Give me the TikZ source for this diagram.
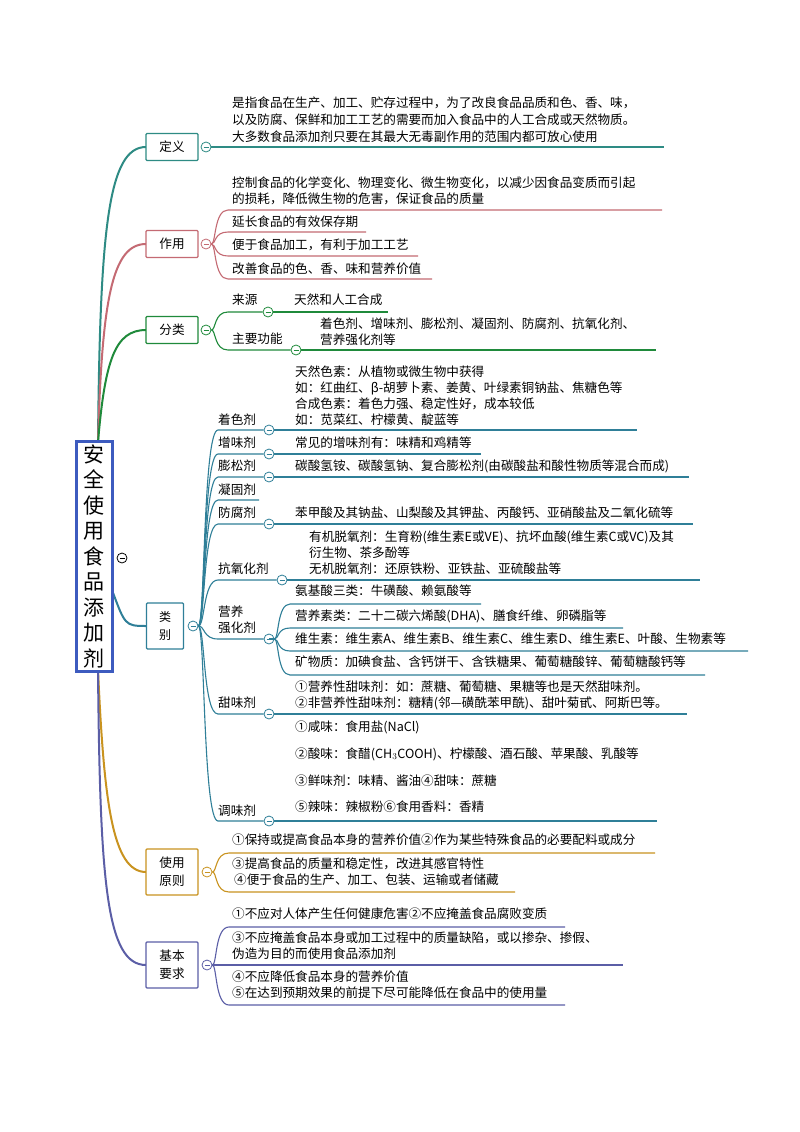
\documentclass[tikz,border=0pt]{standalone}
\usepackage{fontspec}
\setmainfont{Noto Sans CJK SC}
\begin{document}
\begin{tikzpicture}[x=1pt,y=-1pt,
  t/.style={anchor=west,inner sep=0pt,font=\fontsize{12.6}{15}\selectfont},
  lab/.style={anchor=west,inner sep=0pt,font=\fontsize{12.6}{16}\selectfont,align=left},
  box/.style={draw,line width=1.1pt,fill=white,inner sep=0pt,rounded corners=1pt,font=\fontsize{12.6}{15}\selectfont,text=black,align=center},
  coll/.style={circle,draw,fill=white,line width=0.8pt,inner sep=0pt,minimum size=10pt,
     path picture={\draw[line width=0.8pt] ([xshift=2.5pt]path picture bounding box.west) -- ([xshift=-2.5pt]path picture bounding box.east);}},
  br/.style={line width=1.1pt},
  mb/.style={line width=2pt}]
\definecolor{cA}{HTML}{2E8B84}
\definecolor{cB}{HTML}{C46A73}
\definecolor{cC}{HTML}{1F8A3B}
\definecolor{cD}{HTML}{2F7F98}
\definecolor{cE}{HTML}{C9931F}
\definecolor{cF}{HTML}{5B5EA6}
\definecolor{cR}{HTML}{3D5BBF}
\useasboundingbox[fill=white] (0,0) rectangle (800,1132);

% root
\coordinate (rt) at (98,442);
\coordinate (rb) at (98,670);
\coordinate (rm) at (112,590);
% main branches
\draw[cA,mb] (rt) .. controls (100,230) and (108,147) .. (146,147);
\draw[cB,mb] (rt) .. controls (102,300) and (112,244) .. (146,244);
\draw[cC,mb] (rt) .. controls (105,360) and (115,330) .. (146,330);
\draw[cD,mb] (rm) .. controls (125,625) and (125,626) .. (146,626);
\draw[cE,mb] (rb) .. controls (104,800) and (112,872) .. (146,872);
\draw[cF,mb] (rb) .. controls (100,880) and (106,965) .. (146,965);

\node[draw=cR,line width=3pt,fill=white,minimum width=36pt,minimum height=230pt,inner sep=0pt,align=center,font=\fontsize{21}{25.5}\selectfont] (root) at (94,556) {安\\全\\使\\用\\食\\品\\添\\加\\剂};
\node[coll,draw=black] (rc) at (122,558) {};

% ===== 定义
\node[box,draw=cA,minimum width=52pt,minimum height=27pt] (dy) at (172,147) {定义};
\node[coll,draw=cA] (dyc) at (206,147) {};
\coordinate (dye) at (664,147);
\draw[cA,br] (dyc) -- (dye);
\node[t] (dyt1) at (232,103) {是指食品在生产、加工、贮存过程中，为了改良食品品质和色、香、味，};
\node[t] (dyt2) at (232,120) {以及防腐、保鲜和加工工艺的需要而加入食品中的人工合成或天然物质。};
\node[t] (dyt3) at (232,137) {大多数食品添加剂只要在其最大无毒副作用的范围内都可放心使用};

% ===== 作用
\node[box,draw=cB,minimum width=52pt,minimum height=27pt] (zy) at (172,244) {作用};
\node[coll,draw=cB] (zyc) at (206,244) {};
\foreach \yy/\xe in {210/662,232/366,256/418,279/432}{
  \draw[cB,br] (zyc.east) .. controls (216,244) and (214,\yy) .. (228,\yy) -- (\xe,\yy);}
\node[t] (zyt1) at (232,183) {控制食品的化学变化、物理变化、微生物变化，以减少因食品变质而引起};
\node[t] (zyt2) at (232,199) {的损耗，降低微生物的危害，保证食品的质量};
\node[t] (zyt3) at (232,222) {延长食品的有效保存期};
\node[t] (zyt4) at (232,245) {便于食品加工，有利于加工工艺};
\node[t] (zyt5) at (232,269) {改善食品的色、香、味和营养价值};

% ===== 分类
\node[box,draw=cC,minimum width=52pt,minimum height=27pt] (fl) at (172,330) {分类};
\node[coll,draw=cC] (flc) at (206,330) {};
\node[coll,draw=cC] (ly) at (268,312) {};
\node[coll,draw=cC] (gn) at (296,350) {};
\draw[cC,br] (flc.east) .. controls (216,330) and (214,312) .. (228,312) -- (ly.west);
\draw[cC,br] (ly.east) -- (388,312);
\draw[cC,br] (flc.east) .. controls (216,330) and (214,350) .. (228,350) -- (gn.west);
\draw[cC,br] (gn.east) -- (656,350);
\node[t] (lyt) at (232,300) {来源};
\node[t] (lyv) at (294,300) {天然和人工合成};
\node[t] (gnt) at (232,339) {主要功能};
\node[t] (gnv1) at (320,324) {着色剂、增味剂、膨松剂、凝固剂、防腐剂、抗氧化剂、};
\node[t] (gnv2) at (320,340) {营养强化剂等};

% ===== 类别
\node[box,draw=cD,minimum width=37pt,minimum height=46pt,font=\fontsize{12}{18}\selectfont] (lb) at (165,626) {类\\别};
\node[coll,draw=cD] (lbc) at (193,626) {};
% children
\foreach \nm/\yy/\cx/\xe in {a/430/269/637,b/454/269/481,c/477/269/689,e/524/269/693,f/580/282/700,g/639/269/269,h/714/269/687,i/821/269/657}{
  \node[coll,draw=cD] (k\nm) at (\cx,\yy) {};
  \draw[cD,br] (lbc.east) .. controls (205,626) and (203,\yy) .. (218,\yy) -- (k\nm.west);
  \draw[cD,br] (k\nm.east) -- (\xe,\yy);}
\coordinate (kd) at (259,500);
\draw[cD,br] (lbc.east) .. controls (205,626) and (203,500) .. (218,500) -- (kd);
\node[t] (ka1) at (218,420) {着色剂};
\node[t] (kb1) at (218,443) {增味剂};
\node[t] (kc1) at (218,466) {膨松剂};
\node[t] (kd1) at (218,490) {凝固剂};
\node[t] (ke1) at (218,513) {防腐剂};
\node[t] (kf1) at (218,569) {抗氧化剂};
\node[lab] (kg1) at (218,620) {营养\\强化剂};
\node[t] (kh1) at (218,703) {甜味剂};
\node[t] (ki1) at (218,811) {调味剂};
% leaves
\node[t] (a1) at (295,372) {天然色素：从植物或微生物中获得};
\node[t] (a2) at (295,388) {如：红曲红、β-胡萝卜素、姜黄、叶绿素铜钠盐、焦糖色等};
\node[t] (a3) at (295,404) {合成色素：着色力强、稳定性好，成本较低};
\node[t] (a4) at (295,420) {如：苋菜红、柠檬黄、靛蓝等};
\node[t] (b1) at (295,443) {常见的增味剂有：味精和鸡精等};
\node[t] (c1) at (295,466) {碳酸氢铵、碳酸氢钠、复合膨松剂(由碳酸盐和酸性物质等混合而成)};
\node[t] (e1) at (295,513) {苯甲酸及其钠盐、山梨酸及其钾盐、丙酸钙、亚硝酸盐及二氧化硫等};
\node[t] (f1) at (309,537) {有机脱氧剂：生育粉(维生素E或VE)、抗坏血酸(维生素C或VC)及其};
\node[t] (f2) at (309,553) {衍生物、茶多酚等};
\node[t] (f3) at (309,569) {无机脱氧剂：还原铁粉、亚铁盐、亚硫酸盐等};
\foreach \yy/\xe in {604/481,628/623,651/748,675/705}{
  \draw[cD,br] (kg.east) .. controls (279,639) and (277,\yy) .. (290,\yy) -- (\xe,\yy);}
\node[t] (g1) at (295,591) {氨基酸三类：牛磺酸、赖氨酸等};
\node[t] (g2) at (295,616) {营养素类：二十二碳六烯酸(DHA)、膳食纤维、卵磷脂等};
\node[t] (g3) at (295,639) {维生素：维生素A、维生素B、维生素C、维生素D、维生素E、叶酸、生物素等};
\node[t] (g4) at (295,662) {矿物质：加碘食盐、含钙饼干、含铁糖果、葡萄糖酸锌、葡萄糖酸钙等};
\node[t] (h1) at (295,687) {①营养性甜味剂：如：蔗糖、葡萄糖、果糖等也是天然甜味剂。};
\node[t] (h2) at (295,703) {②非营养性甜味剂：糖精(邻—磺酰苯甲酰)、甜叶菊甙、阿斯巴等。};
\node[t] (i1) at (295,727) {①咸味：食用盐(NaCl)};
\node[t] (i2) at (295,754) {②酸味：食醋(CH$_3$COOH)、柠檬酸、酒石酸、苹果酸、乳酸等};
\node[t] (i3) at (295,781) {③鲜味剂：味精、酱油④甜味：蔗糖};
\node[t] (i4) at (295,807) {⑤辣味：辣椒粉⑥食用香料：香精};

% ===== 使用原则
\node[box,draw=cE,minimum width=52pt,minimum height=46pt,font=\fontsize{12.6}{18}\selectfont] (sy) at (172,872) {使用\\原则};
\node[coll,draw=cE] (syc) at (207,872) {};
\foreach \yy/\xe in {853/655,892/515}{
  \draw[cE,br] (syc.east) .. controls (217,872) and (215,\yy) .. (229,\yy) -- (\xe,\yy);}
\node[t] (s1) at (232,840) {①保持或提高食品本身的营养价值②作为某些特殊食品的必要配料或成分};
\node[t] (s2) at (232,864) {③提高食品的质量和稳定性，改进其感官特性};
\node[t] (s3) at (234,880) {④便于食品的生产、加工、包装、运输或者储藏};

% ===== 基本要求
\node[box,draw=cF,minimum width=52pt,minimum height=46pt,font=\fontsize{12.6}{18}\selectfont] (jb) at (172,965) {基本\\要求};
\node[coll,draw=cF] (jbc) at (207,965) {};
\foreach \yy/\xe in {927/565,965/623,1005/565}{
  \draw[cF,br] (jbc.east) .. controls (217,965) and (215,\yy) .. (229,\yy) -- (\xe,\yy);}
\node[t] (j1) at (232,914) {①不应对人体产生任何健康危害②不应掩盖食品腐败变质};
\node[t] (j2) at (232,938) {③不应掩盖食品本身或加工过程中的质量缺陷，或以掺杂、掺假、};
\node[t] (j3) at (232,954) {伪造为目的而使用食品添加剂};
\node[t] (j4) at (232,977) {④不应降低食品本身的营养价值};
\node[t] (j5) at (232,993) {⑤在达到预期效果的前提下尽可能降低在食品中的使用量};
\end{tikzpicture}
\end{document}
